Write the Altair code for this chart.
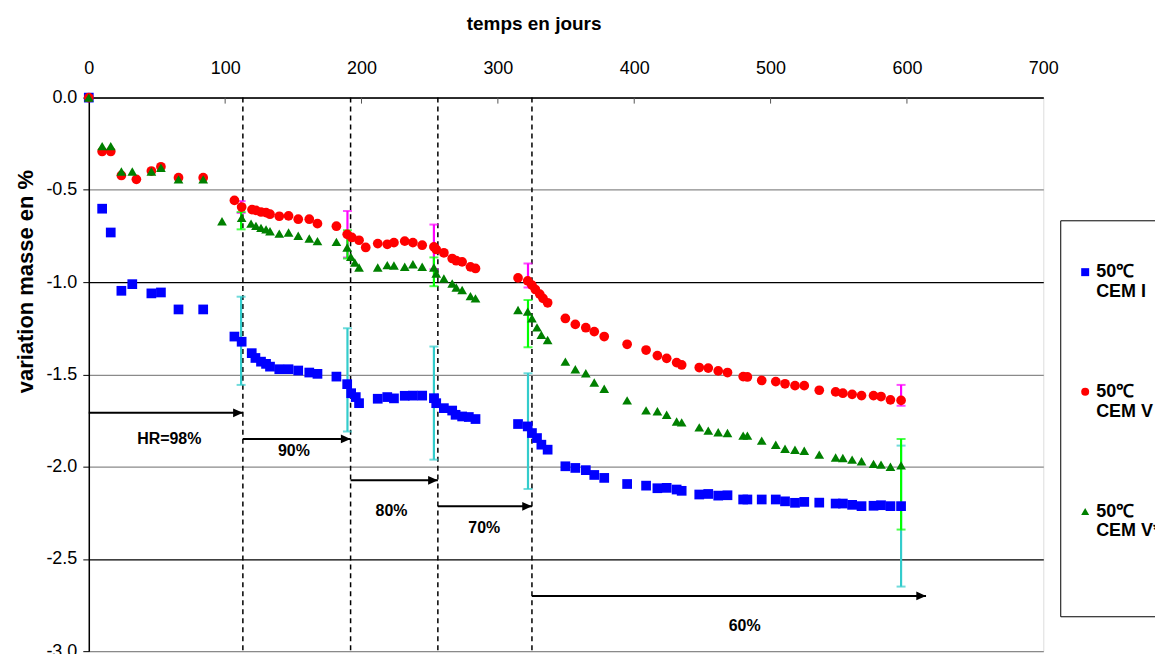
import altair as alt
import pandas as pd

# ---------------- data ----------------
late_days = [349.5, 356.8, 364.5, 370.7, 378.0, 394.8, 408.7, 417.0, 423.8, 431.1,
             434.8, 447.7, 454.3, 461.6, 468.4, 479.9, 483.0, 493.5, 503.8, 510.6,
             517.9, 524.7, 535.7, 547.7, 553.0, 559.8, 566.7, 575.5, 581.0, 587.9, 595.7]

cem1_days = [0, 9.8, 16.1, 23.9, 31.9, 45.9, 52.9, 65.8, 83.9, 106.8, 112.1,
             119.5, 122.2, 126.3, 130.0, 132.9, 139.7, 146.5, 153.6, 161.7, 167.7, 181.6,
             189.5, 192.4, 195.8, 198.2, 211.9, 218.9, 223.8, 231.7, 237.7, 244.5,
             253.1, 254.8, 260.4, 266.5, 269.0, 273.8, 278.7, 283.6,
             314.8, 321.9, 325.0, 328.7, 331.9, 336.5] + late_days
cem1_vals = [0, -0.602, -0.731, -1.047, -1.011, -1.061, -1.056, -1.148, -1.148, -1.295, -1.323,
             -1.385, -1.411, -1.431, -1.443, -1.458, -1.472, -1.472, -1.479, -1.49, -1.497, -1.512,
             -1.553, -1.602, -1.623, -1.656, -1.632, -1.623, -1.63, -1.616, -1.615, -1.615,
             -1.629, -1.656, -1.683, -1.696, -1.719, -1.728, -1.731, -1.742,
             -1.769, -1.782, -1.818, -1.845, -1.881, -1.908,
             -1.998, -2.007, -2.019, -2.045, -2.061, -2.094, -2.103, -2.117, -2.115, -2.124,
             -2.131, -2.151, -2.148, -2.157, -2.155, -2.178, -2.178, -2.178, -2.178, -2.188,
             -2.196, -2.191, -2.195, -2.2, -2.2, -2.207, -2.214, -2.212, -2.209, -2.214, -2.214]

cem5_days = [0, 9.8, 16.1, 23.9, 34.9, 45.9, 52.9, 65.8, 83.9, 106.8, 112.1,
             119.7, 122.6, 126.3, 130.0, 132.9, 139.7, 146.5, 153.6, 161.7, 167.7, 181.6,
             189.5, 192.9, 198.2, 203.1, 211.9, 218.9, 223.8, 231.7, 237.7, 244.5,
             253.1, 254.8, 260.4, 266.5, 269.5, 273.8, 279.9, 283.6,
             314.8, 321.9, 325.0, 327.5, 330.7, 333.1, 336.5] + late_days
cem5_vals = [0, -0.292, -0.292, -0.422, -0.443, -0.398, -0.375, -0.434, -0.434, -0.557, -0.593,
             -0.607, -0.611, -0.62, -0.623, -0.632, -0.643, -0.641, -0.659, -0.659, -0.683, -0.697,
             -0.741, -0.758, -0.773, -0.812, -0.791, -0.795, -0.786, -0.778, -0.786, -0.8,
             -0.809, -0.823, -0.841, -0.872, -0.884, -0.89, -0.917, -0.926,
             -0.977, -0.993, -1.016, -1.04, -1.065, -1.088, -1.112,
             -1.197, -1.229, -1.247, -1.268, -1.295, -1.337, -1.368, -1.398, -1.413, -1.436,
             -1.449, -1.463, -1.466, -1.481, -1.49, -1.512, -1.514, -1.533, -1.539, -1.551,
             -1.561, -1.561, -1.586, -1.595, -1.602, -1.608, -1.615, -1.615, -1.62, -1.638, -1.641]

cem5s_days = [0, 9.8, 16.1, 23.9, 31.9, 45.9, 52.9, 65.8, 83.9, 97.7, 112.1,
              119.0, 122.6, 126.3, 130.0, 132.9, 139.7, 146.5, 153.6, 161.7, 167.7, 181.6,
              189.5, 192.2, 195.1, 198.2, 211.9, 218.9, 223.8, 231.7, 237.7, 244.5,
              253.1, 254.8, 260.4, 266.5, 269.5, 273.8, 279.9, 283.6,
              314.8, 321.9, 325.0, 328.7, 331.9, 336.5] + late_days
cem5s_vals = [0, -0.263, -0.263, -0.40, -0.40, -0.40, -0.38, -0.443, -0.443, -0.67, -0.652,
              -0.683, -0.695, -0.706, -0.714, -0.724, -0.737, -0.731, -0.749, -0.764, -0.778, -0.782,
              -0.812, -0.863, -0.894, -0.921, -0.921, -0.908, -0.91, -0.917, -0.903, -0.917,
              -0.921, -0.953, -0.98, -1.007, -1.029, -1.043, -1.076, -1.088,
              -1.151, -1.16, -1.196, -1.245, -1.286, -1.314,
              -1.431, -1.472, -1.494, -1.544, -1.578, -1.641, -1.695, -1.7, -1.719, -1.755,
              -1.76, -1.787, -1.805, -1.814, -1.818, -1.832, -1.832, -1.859, -1.881, -1.903,
              -1.908, -1.914, -1.935, -1.95, -1.953, -1.962, -1.971, -1.985, -1.989, -2.001, -1.993]

series_names = ["50℃|CEM I", "50℃|CEM V", "50℃|CEM V*"]

# error bars (day, low, high)
err_days = [111.7, 189.7, 253.1, 322.1, 595.7]
cem1_err_lo = [-1.557, -1.809, -1.962, -2.121, -2.65]
cem1_err_hi = [-1.079, -1.25, -1.349, -1.494, -1.886]
cem5_err_lo = [-0.625, -0.867, -0.93, -1.029, -1.670]
cem5_err_hi = [-0.561, -0.615, -0.688, -0.899, -1.557]
cem5s_err_lo = [-0.714, -0.872, -1.022, -1.353, -2.341]
cem5s_err_hi = [-0.62, -0.719, -0.866, -1.097, -1.85]

# humidity stages
stage_days = [113, 192, 256, 325]
arrow_start = [0, 113, 192, 256, 325]
arrow_end = [113, 192, 256, 325, 614]
arrow_y = [-1.708, -1.85, -2.074, -2.215, -2.701]
stage_labels = ["HR=98%", "90%", "80%", "70%", "60%"]
label_x = [59, 150.4, 222, 290, 481]
label_y = [-1.85, -1.917, -2.241, -2.332, -2.863]

x_ticks = [0, 100, 200, 300, 400, 500, 600, 700]
y_ticks = [0, -0.5, -1.0, -1.5, -2.0, -2.5, -3.0]
inner_ticks = [100, 200, 300, 400, 500, 600]

# ---------------- tables ----------------
pts = pd.concat([
    pd.DataFrame({"day": cem1_days, "val": cem1_vals, "serie": series_names[0]}),
    pd.DataFrame({"day": cem5_days, "val": cem5_vals, "serie": series_names[1]}),
    pd.DataFrame({"day": cem5s_days, "val": cem5s_vals, "serie": series_names[2]}),
], ignore_index=True)

arrows = pd.DataFrame({"x0": arrow_start, "x1": arrow_end, "y": arrow_y})
labels = pd.DataFrame({"x": label_x, "y": label_y, "t": stage_labels})
stages = pd.DataFrame({"d": stage_days})
ticks_df = pd.DataFrame({"t": inner_ticks})

FONT = "Liberation Sans"
xs = alt.Scale(domain=[0, 700], nice=False, zero=False)
ys = alt.Scale(domain=[-3, 0], nice=False, zero=False)

XAX = alt.Axis(
    orient="top", values=x_ticks, title="temps en jours", grid=False, ticks=False,
    labelPadding=20, labelFontSize=18, labelFont=FONT, labelColor="black",
    domainColor="black", domainWidth=1.5, titleFont=FONT, titleFontSize=19,
    titleFontWeight="bold", titleColor="black", titlePadding=26, labelFlush=False,
    titleX=446, titleAlign="center")
YAX = alt.Axis(
    values=y_ticks, format=".1f", labelExpr="replace(datum.label, '\u2212', '-')",
    title="variation masse en %",
    grid=True, gridColor={"condition": {"test": "datum.value == -1 || datum.value == -2.5",
                                        "value": "black"}, "value": "#8a8a8a"},
    gridWidth=1.3, tickColor="black", tickSize=6, domainColor="black", domainWidth=1.5,
    labelFontSize=18, labelFont=FONT, labelColor="black", labelPadding=6,
    titleFont=FONT, titleFontSize=22, titleFontWeight="bold", titleColor="black",
    titlePadding=8, titleY=184, titleAlign="center")


def X(field):
    return alt.X(field, scale=xs, axis=XAX)


def Y(field):
    return alt.Y(field, scale=ys, axis=YAX)


legend = alt.Legend(
    title=" ", titleFontSize=10, titlePadding=17, orient="none", legendX=974, legendY=123,
    direction="vertical",
    labelExpr="datum.label == '50℃|CEM V*' ? ['50℃', 'CEM V*', ' ', ' ', ' '] : split(datum.label, '|')",
    labelFont=FONT, labelFontSize=18,
    labelFontWeight="bold", labelColor="black", labelLimit=300, labelOffset=2,
    symbolSize=64, symbolStrokeWidth=0, padding=16, rowPadding=82,
    strokeColor="black", fillColor="white",
)

points = alt.Chart(pts).mark_point(filled=True, opacity=1, size=95).encode(
    x=X("day:Q"),
    y=Y("val:Q"),
    color=alt.Color("serie:N", scale=alt.Scale(domain=series_names,
                                               range=["#0000FF", "#FF0000", "#008000"]), legend=legend),
    shape=alt.Shape("serie:N", scale=alt.Scale(domain=series_names,
                                               range=["square", "circle", "triangle-up"]), legend=legend),
)


def errbars(lo, hi, color):
    d = pd.DataFrame({"day": err_days, "lo": lo, "hi": hi})
    base = alt.Chart(d)
    line = base.mark_rule(color=color, strokeWidth=2.2).encode(
        x=X("day:Q"), y=Y("lo:Q"), y2="hi:Q")
    cap_lo = base.mark_tick(color=color, orient="horizontal", size=9, thickness=2).encode(
        x=X("day:Q"), y=Y("lo:Q"))
    cap_hi = base.mark_tick(color=color, orient="horizontal", size=9, thickness=2).encode(
        x=X("day:Q"), y=Y("hi:Q"))
    return line + cap_lo + cap_hi


dashed = alt.Chart(stages).transform_calculate(top="0", bottom="-3").mark_rule(
    color="black", strokeWidth=1.5, strokeDash=[5, 4]).encode(
    x=X("d:Q"), y=Y("top:Q"), y2="bottom:Q")

top_ticks = alt.Chart(ticks_df).mark_rule(color="#555555", strokeWidth=1).encode(
    x=X("t:Q"), y=alt.value(0), y2=alt.value(6))

arrow_lines = alt.Chart(arrows).mark_rule(color="black", strokeWidth=2).encode(
    x=X("x0:Q"), x2="x1:Q", y=Y("y:Q"))
arrow_heads = alt.Chart(arrows).mark_point(
    shape="M0,0L-1,-0.45L-1,0.45Z", filled=True, opacity=1, color="black", size=380).encode(
    x=X("x1:Q"), y=Y("y:Q"))
arrow_text = alt.Chart(labels).mark_text(
    font=FONT, fontSize=16, fontWeight="bold", color="black").encode(
    x=X("x:Q"), y=Y("y:Q"), text="t:N")

chart = alt.layer(
    dashed, top_ticks, arrow_lines, arrow_heads, arrow_text,
    errbars(cem1_err_lo, cem1_err_hi, "#33CCCC"),
    errbars(cem5_err_lo, cem5_err_hi, "#FF00FF"),
    errbars(cem5s_err_lo, cem5s_err_hi, "#00FF00"),
    points,
).properties(
    width=957, height=555,
    autosize=alt.AutoSizeParams(type="none"),
    padding={"left": 81, "top": 89, "right": 112, "bottom": 2},
).configure_view(stroke="#8a8a8a", strokeWidth=1.5).configure(background="white")

chart.save("out.html", embed_options={"renderer": "svg", "actions": False})
